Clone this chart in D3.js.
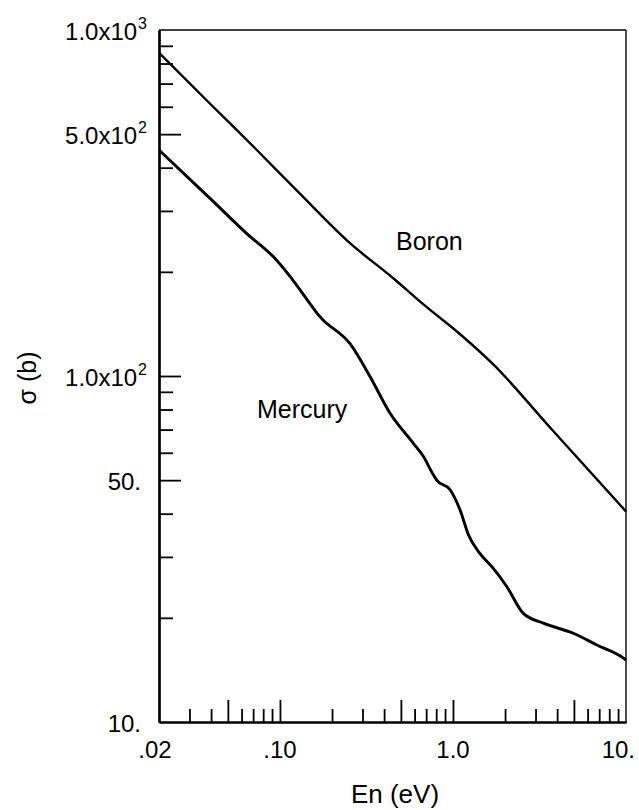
<!DOCTYPE html>
<html>
<head>
<meta charset="utf-8">
<script src="https://cdn.jsdelivr.net/npm/d3@7"></script>
<style>
  html, body { margin: 0; padding: 0; background: #fff; }
  svg { display: block; }
  text { font-family: "Liberation Sans", Arial, Helvetica, sans-serif; fill: #000; }
</style>
</head>
<body>
<svg id="chart" width="639" height="810"></svg>
<script>
// ---- data ----
const boronEnergy = [0.02, 0.04, 0.0735, 0.13, 0.254, 0.45, 0.675, 1.1, 1.71, 3.64, 10];
const boronSigma  = [860, 608, 450, 337, 242, 192, 161, 132, 108, 71, 40.6];

const mercuryEnergy = [0.02, 0.04, 0.0643, 0.0917, 0.1143, 0.149, 0.171, 0.178, 0.254, 0.332, 0.433, 0.59, 0.675, 0.77, 0.805, 0.962, 1.099, 1.23, 1.43, 1.71, 2.05, 2.55, 3.33, 4.96, 6.78, 9.66, 10];
const mercurySigma  = [450, 324, 258, 221, 194, 162, 148, 145, 124, 99.5, 78, 63.9, 58.5, 51.8, 50, 46.9, 41.0, 34.7, 30.7, 27.8, 24.6, 20.6, 19.3, 18.05, 16.7, 15.3, 15.1];

const seriesNames = ["Boron", "Mercury"];

const xMajorTicks = [0.05, 0.1, 0.5, 1, 5];
const xMinorTicks = [0.03, 0.04, 0.06, 0.07, 0.08, 0.09, 0.2, 0.3, 0.4, 0.6, 0.7, 0.8, 0.9, 2, 3, 4, 6, 7, 8, 9];
const xTickLabelValues = [0.02, 0.1, 1, 10];
const xTickLabels = [".02", ".10", "1.0", "10."];

const yMajorTicks = [50, 100, 500];
const yMinorTicks = [20, 30, 40, 60, 70, 80, 90, 200, 300, 400, 600, 700, 800, 900];
const yTickLabelValues = [10, 50, 100, 500, 1000];
const yTickMantissa = ["10.", "50.", "1.0x10", "5.0x10", "1.0x10"];
const yTickExponent = ["", "", "2", "2", "3"];

const xTitle = "En (eV)";
const yTitle = "σ (b)";

// ---- layout ----
const L = 159, R = 626, T = 30, B = 722;
const svg = d3.select("#chart");

const x = d3.scaleLog().domain([0.02, 10]).range([L, R]);
const y = d3.scaleLog().domain([10, 1000]).range([B, T]);

// frame
svg.append("line").attr("x1", L).attr("x2", R).attr("y1", T).attr("y2", T)
  .attr("stroke", "#000").attr("stroke-width", 1.6);
svg.append("line").attr("x1", R).attr("x2", R).attr("y1", T).attr("y2", B)
  .attr("stroke", "#000").attr("stroke-width", 1.4);

function styleAxis(g, w) {
  g.selectAll("path.domain").attr("stroke", "#000").attr("stroke-width", w);
  g.selectAll(".tick line").attr("stroke", "#000").attr("stroke-width", 1.8);
  g.selectAll(".tick text").remove();
}
// y axis (ticks pointing inward)
const yMinor = svg.append("g").attr("transform", `translate(${L},0)`)
  .call(d3.axisRight(y).tickValues(yMinorTicks).tickSize(14).tickSizeOuter(0).tickFormat(""));
styleAxis(yMinor, 2.2);
const yMajor = svg.append("g").attr("transform", `translate(${L},0)`)
  .call(d3.axisRight(y).tickValues(yMajorTicks).tickSize(22).tickSizeOuter(0).tickFormat(""));
styleAxis(yMajor, 2.2);

// x axis (ticks pointing up)
const xMinor = svg.append("g").attr("transform", `translate(0,${B})`)
  .call(d3.axisTop(x).tickValues(xMinorTicks).tickSize(13).tickSizeOuter(0).tickFormat(""));
styleAxis(xMinor, 2.2);
const xMajor = svg.append("g").attr("transform", `translate(0,${B})`)
  .call(d3.axisTop(x).tickValues(xMajorTicks).tickSize(22).tickSizeOuter(0).tickFormat(""));
styleAxis(xMajor, 2.2);

// x tick labels
const lastX = xTickLabelValues.length - 1;
svg.append("g").selectAll("text").data(xTickLabelValues).join("text")
  .attr("x", (d, i) => i === lastX ? x(d) + 9 : x(d) + (i === 0 ? -4 : 0))
  .attr("y", B + 36)
  .attr("text-anchor", (d, i) => i === lastX ? "end" : "middle")
  .attr("font-size", 24)
  .text((d, i) => xTickLabels[i]);

// y tick labels
const yl = svg.append("g").selectAll("text").data(yTickLabelValues).join("text")
  .attr("x", (d, i) => yTickExponent[i] ? 147 : 141)
  .attr("y", d => y(d) + 10)
  .attr("text-anchor", "end")
  .attr("font-size", 24);
yl.append("tspan").text((d, i) => yTickMantissa[i]);
yl.filter((d, i) => yTickExponent[i] !== "").append("tspan")
  .attr("font-size", 16).attr("dy", -11).attr("dx", 1)
  .text(function(d) { return yTickExponent[yTickLabelValues.indexOf(d)]; });

// curves
const line = d3.line()
  .x(d => x(d[0]))
  .y(d => y(d[1]))
  .curve(d3.curveMonotoneX);

const boron = boronEnergy.map((e, i) => [e, boronSigma[i]]);
const mercury = mercuryEnergy.map((e, i) => [e, mercurySigma[i]]);

svg.append("path").datum(boron).attr("d", line)
  .attr("fill", "none").attr("stroke", "#000").attr("stroke-width", 2.4);
svg.append("path").datum(mercury).attr("d", line)
  .attr("fill", "none").attr("stroke", "#000").attr("stroke-width", 2.9);

// series labels
svg.append("text").attr("x", 396).attr("y", 250).attr("font-size", 25).text(seriesNames[0]);
svg.append("text").attr("x", 257).attr("y", 418).attr("font-size", 25).text(seriesNames[1]);

// axis titles
svg.append("text").attr("x", 395).attr("y", 803).attr("text-anchor", "middle")
  .attr("font-size", 26).text(xTitle);
svg.append("text").attr("transform", "translate(36,378) rotate(-90)")
  .attr("text-anchor", "middle").attr("font-size", 25).text(yTitle);
</script>
</body>
</html>
